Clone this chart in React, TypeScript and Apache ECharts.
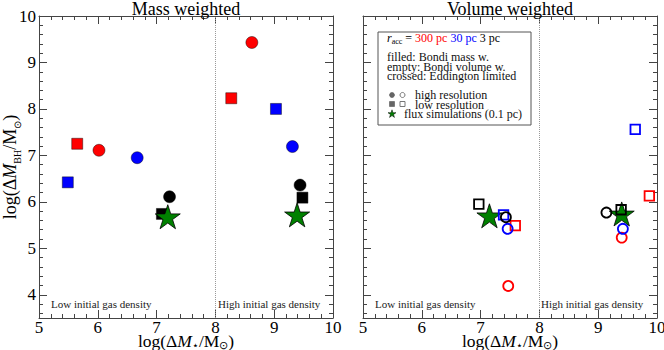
import React, { useEffect, useRef } from "react";
import * as echarts from "echarts";

// ---- data (log stellar mass, log BH mass) ----
// Mass weighted (filled markers)
const massRedCircle = [[6.02, 7.11], [8.62, 9.43]];
const massRedSquare = [[5.65, 7.25], [8.27, 8.23]];
const massBlueCircle = [[6.67, 6.95], [9.31, 7.19]];
const massBlueSquare = [[5.49, 6.42], [9.03, 8.0]];
const massBlackCircle = [[7.22, 6.11], [9.44, 6.36]];
const massBlackSquare = [[7.09, 5.74], [9.48, 6.09]];
const massFluxStar = [[7.19, 5.68], [9.39, 5.72]];
// Volume weighted (empty markers)
const volRedCircle = [[7.47, 4.19], [9.4, 5.23]];
const volRedSquare = [[7.59, 5.49], [9.87, 6.13]];
const volBlueCircle = [[7.46, 5.42], [9.42, 5.42]];
const volBlueSquare = [[7.39, 5.72], [9.63, 7.56]];
const volBlackCircle = [[7.43, 5.67], [9.14, 5.77]];
const volBlackSquare = [[6.97, 5.95], [9.39, 5.83]];
const volFluxStar = [[7.15, 5.7], [9.4, 5.74]];

const titles = ["Mass weighted", "Volume weighted"];
const regionLabels = ["Low initial gas density", "High initial gas density"];
const legendLines = [
  "filled: Bondi mass w.",
  "empty: Bondi volume w.",
  "crossed: Eddington limited",
];
const legendMarkerLines = ["high resolution", "low resolution", "flux simulations (0.1 pc)"];
const yMajorTicks = [4, 5, 6, 7, 8, 9, 10];
const yMinorTicks: number[] = [];
for (let i = 18; i <= 50; i++) {
  if (i % 5 !== 0) yMinorTicks.push(+(i * 0.2).toFixed(1));
}
const X_MIN = 5, X_MAX = 10, Y_MIN = 3.5, Y_MAX = 10, DIVIDE = 8;

const FONT = "'Liberation Serif', 'Times New Roman', serif";
const RED = "#ff0000", BLUE = "#0000ff", BLACK = "#000000", GREEN = "#008000";
const STAR = "path://M0,-1L0.2245,-0.309L0.951,-0.309L0.3633,0.118L0.5878,0.809L0,0.382L-0.5878,0.809L-0.3633,0.118L-0.951,-0.309L-0.2245,-0.309Z";
const AXC = "#444";

const grids = [
  { left: 39, right: 331, top: 16, bottom: 32, outerBoundsMode: "none", containLabel: false },
  { left: 363, right: 7, top: 16, bottom: 32, outerBoundsMode: "none", containLabel: false },
];

const xName = {
  name: "{n|log(Δ}{i|M}{s|⋆}{n|/M}{s|⊙}{n|)}",
  nameLocation: "middle" as const,
  nameGap: 14,
  nameMoveOverlap: false,
  nameTextStyle: {
    rich: {
      n: { fontFamily: FONT, fontSize: 17.5, color: "#000", verticalAlign: "middle", lineHeight: 18 },
      i: { fontFamily: FONT, fontSize: 17.5, fontStyle: "italic", color: "#000", verticalAlign: "middle", lineHeight: 18 },
      s: { fontFamily: FONT, fontSize: 11, color: "#000", verticalAlign: "bottom", lineHeight: 10 },
    },
  },
};
const yName = {
  name: "{n|log(Δ}{i|M}{s|BH}{n|/M}{s|⊙}{n|)}",
  nameLocation: "middle" as const,
  nameGap: 17,
  nameRotate: 90,
  nameMoveOverlap: false,
  nameTextStyle: {
    rich: {
      n: { fontFamily: FONT, fontSize: 18, color: "#000", verticalAlign: "middle", lineHeight: 24 },
      i: { fontFamily: FONT, fontSize: 18, fontStyle: "italic", color: "#000", verticalAlign: "middle", lineHeight: 24 },
      s: { fontFamily: FONT, fontSize: 10, color: "#000", verticalAlign: "bottom", lineHeight: 11 },
    },
  },
};

function makeXAxes(g: number) {
  const base = {
    gridIndex: g, type: "value" as const, min: X_MIN, max: X_MAX, interval: 1,
    axisLine: { show: true, onZero: false, lineStyle: { color: AXC, width: 1 } },
    axisTick: { show: true, inside: true, length: 8, lineStyle: { color: AXC } },
    minorTick: { show: true, splitNumber: 5, length: 4, lineStyle: { color: AXC } },
    splitLine: { show: false },
    minorSplitLine: { show: false },
  };
  return [
    {
      ...base, position: "bottom",
      axisLabel: { show: true, fontFamily: FONT, fontSize: 17, color: "#000", margin: 3, lineHeight: 13 },
      ...xName,
    },
    { ...base, position: "top", axisLabel: { show: false } },
  ];
}

function makeYAxes(g: number) {
  const base = {
    gridIndex: g, type: "value" as const, min: Y_MIN, max: Y_MAX,
    splitLine: { show: false },
  };
  const res: any[] = [];
  for (const pos of ["left", "right"]) {
    res.push({
      ...base, position: pos,
      axisLine: { show: true, onZero: false, lineStyle: { color: AXC, width: 1 } },
      axisTick: { show: true, inside: true, length: 8, customValues: yMajorTicks, lineStyle: { color: AXC } },
      axisLabel: {
        show: pos === "left" && g === 0, customValues: yMajorTicks,
        fontFamily: FONT, fontSize: 17, color: "#000", margin: 3,
      },
      ...(pos === "left" && g === 0 ? yName : {}),
    });
    res.push({
      ...base, position: pos,
      axisLine: { show: false },
      axisTick: { show: true, inside: true, length: 4, customValues: yMinorTicks, lineStyle: { color: AXC } },
      axisLabel: { show: false },
    });
  }
  return res;
}

function filled(name: string, data: number[][], color: string, symbol: string, size: number, xi: number, yi: number) {
  return {
    type: "scatter", name, data, xAxisIndex: xi, yAxisIndex: yi,
    symbol, symbolSize: size,
    itemStyle: { color, borderColor: "rgba(0,0,0,0.55)", borderWidth: 0.8, opacity: 1 },
    silent: true,
  };
}
function empty(name: string, data: number[][], color: string, symbol: string, size: number, xi: number, yi: number) {
  return {
    type: "scatter", name, data, xAxisIndex: xi, yAxisIndex: yi,
    symbol, symbolSize: size,
    itemStyle: { color: "rgba(0,0,0,0)", borderColor: color, borderWidth: 1.8, opacity: 1 },
    silent: true,
  };
}
function star(name: string, data: number[][], xi: number, yi: number) {
  return {
    type: "scatter", name, data, xAxisIndex: xi, yAxisIndex: yi,
    symbol: STAR, symbolSize: [25, 24],
    itemStyle: { color: GREEN, borderColor: "#000", borderWidth: 0.8, opacity: 1 },
    silent: true,
  };
}
function divider(xi: number, yi: number) {
  return {
    type: "scatter", data: [], xAxisIndex: xi, yAxisIndex: yi, silent: true,
    markLine: {
      silent: true, symbol: ["none", "none"], label: { show: false },
      lineStyle: { type: "dotted", color: "#999", width: 1 },
      data: [{ xAxis: DIVIDE }],
    },
  };
}

export default function App() {
  const ref = useRef<HTMLDivElement>(null);
  useEffect(() => {
    if (!ref.current) return;
    const chart = echarts.init(ref.current, null, { renderer: "svg" });
    const series: any[] = [
      divider(0, 0),
      filled("mRC", massRedCircle, RED, "circle", 12, 0, 0),
      filled("mRS", massRedSquare, RED, "rect", 11, 0, 0),
      filled("mBC", massBlueCircle, BLUE, "circle", 12, 0, 0),
      filled("mBS", massBlueSquare, BLUE, "rect", 11, 0, 0),
      filled("mKC", massBlackCircle, BLACK, "circle", 12, 0, 0),
      filled("mKS", massBlackSquare, BLACK, "rect", 11, 0, 0),
      star("mStar", massFluxStar, 0, 0),
      divider(2, 4),
      star("vStar", volFluxStar, 2, 4),
      empty("vRC", volRedCircle, RED, "circle", 10, 2, 4),
      empty("vRS", volRedSquare, RED, "rect", 9.5, 2, 4),
      empty("vBC", volBlueCircle, BLUE, "circle", 10, 2, 4),
      empty("vBS", volBlueSquare, BLUE, "rect", 9.5, 2, 4),
      empty("vKC", volBlackCircle, BLACK, "circle", 10, 2, 4),
      empty("vKS", volBlackSquare, BLACK, "rect", 9.5, 2, 4),
    ];

    const regionText = (x: number, t: string) => ({
      type: "text", x, y: 304,
      style: { text: t, fontFamily: FONT, fontSize: 11, fill: "#222", verticalAlign: "middle" },
      silent: true,
    });

    const LH = 9.5;
    const tStyle = { fontFamily: FONT, fontSize: 12, lineHeight: LH, fill: "#111" };
    const legendBody = [
      ...legendLines.map((l) => `{t|${l}}`),
      "{t| }",
      `{w1| }{t|${legendMarkerLines[0]}}`,
      `{w1| }{t|${legendMarkerLines[1]}}`,
      `{w2| }{t|${legendMarkerLines[2]}}`,
    ].join("\n");

    const graphic: any[] = [
      regionText(51, regionLabels[0]),
      regionText(218, regionLabels[1]),
      regionText(375, regionLabels[0]),
      regionText(541, regionLabels[1]),
      {
        type: "rect", shape: { x: 378, y: 32, width: 153, height: 93 },
        style: { fill: "#fff", stroke: "#555", lineWidth: 1 }, silent: true, z: 10,
      },
      {
        type: "text", x: 387, y: 38, z: 11,
        style: {
          text: "{ri|r}{sub|acc}{n| = }{r|300 pc }{b|30 pc }{k|3 pc}",
          verticalAlign: "middle",
          rich: {
            ri: { fontFamily: FONT, fontSize: 12, fontStyle: "italic", fill: "#000", verticalAlign: "middle", lineHeight: 14 },
            sub: { fontFamily: FONT, fontSize: 8, fill: "#000", verticalAlign: "bottom", lineHeight: 9 },
            n: { fontFamily: FONT, fontSize: 12, fill: "#000", verticalAlign: "middle", lineHeight: 14 },
            r: { fontFamily: FONT, fontSize: 12, fill: RED, verticalAlign: "middle", lineHeight: 14 },
            b: { fontFamily: FONT, fontSize: 12, fill: BLUE, verticalAlign: "middle", lineHeight: 14 },
            k: { fontFamily: FONT, fontSize: 12, fill: "#000", verticalAlign: "middle", lineHeight: 14 },
          },
        },
        silent: true,
      },
      {
        type: "text", x: 387, y: 57 - LH / 2, z: 11, silent: true,
        style: {
          text: legendBody,
          fontFamily: FONT, fontSize: 12, lineHeight: LH, fill: "#111",
          verticalAlign: "top", align: "left",
          rich: {
            t: tStyle,
            w1: { ...tStyle, width: 28 },
            w2: { ...tStyle, width: 17 },
          },
        },
      },
      { type: "circle", shape: { cx: 392, cy: 95, r: 2.5 }, style: { fill: "#666", stroke: "#444", lineWidth: 0.5 }, z: 11, silent: true },
      { type: "circle", shape: { cx: 402.5, cy: 95, r: 2.5 }, style: { fill: "none", stroke: "#777", lineWidth: 1 }, z: 11, silent: true },
      { type: "rect", shape: { x: 389.5, y: 101.5, width: 5, height: 5 }, style: { fill: "#666", stroke: "#444", lineWidth: 0.5 }, z: 11, silent: true },
      { type: "rect", shape: { x: 400, y: 101.5, width: 5, height: 5 }, style: { fill: "none", stroke: "#777", lineWidth: 1 }, z: 11, silent: true },
      {
        type: "polygon", z: 11, silent: true,
        shape: {
          points: [[0, -1], [0.2245, -0.309], [0.951, -0.309], [0.3633, 0.118], [0.5878, 0.809], [0, 0.382], [-0.5878, 0.809], [-0.3633, 0.118], [-0.951, -0.309], [-0.2245, -0.309]].map(
            (p) => [392 + p[0] * 4.2, 114 + p[1] * 4.2]
          ),
        },
        style: { fill: GREEN, stroke: "#000", lineWidth: 0.5 },
      },
    ];

    chart.setOption({
      animation: false,
      backgroundColor: "#fff",
      title: [
        { text: titles[0], left: 186, textAlign: "center", top: 0, padding: 0, textStyle: { fontFamily: FONT, fontSize: 18, lineHeight: 17, fontWeight: "normal", color: "#000" } },
        { text: titles[1], left: 510, textAlign: "center", top: 0, padding: 0, textStyle: { fontFamily: FONT, fontSize: 18, lineHeight: 17, fontWeight: "normal", color: "#000" } },
      ],
      grid: grids,
      xAxis: [...makeXAxes(0), ...makeXAxes(1)],
      yAxis: [...makeYAxes(0), ...makeYAxes(1)],
      series,
      graphic,
    });
    return () => chart.dispose();
  }, []);
  return <div ref={ref} style={{ position: "fixed", left: 0, top: 0, width: 664, height: 350 }} />;
}
